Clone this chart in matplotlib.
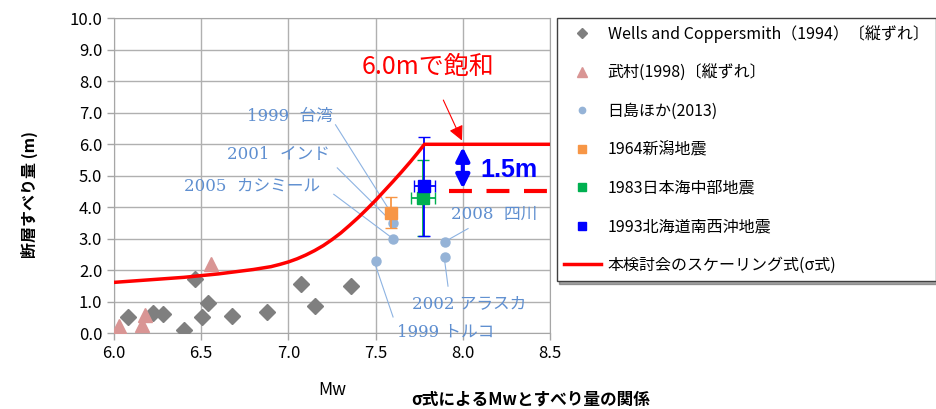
import matplotlib
matplotlib.use("Agg")
from matplotlib import pyplot as plt

plt.rcParams['font.family'] = ['Noto Sans CJK JP', 'DejaVu Sans']

# Wells and Coppersmith (1994) - diamonds
wc_mw = [6.08, 6.225, 6.28, 6.40, 6.465, 6.506, 6.54, 6.676, 6.875, 7.07, 7.15, 7.36]
wc_d = [0.51, 0.64, 0.61, 0.08, 1.71, 0.51, 0.96, 0.53, 0.67, 1.56, 0.87, 1.49]

# Takemura (1998) - triangles
tk_mw = [6.027, 6.16, 6.18, 6.557]
tk_d = [0.22, 0.25, 0.58, 2.2]

# Hishima et al. (2013) - circles
hs_mw = [7.60, 7.60, 7.50, 7.895, 7.895]
hs_d = [3.49, 2.99, 2.30, 2.88, 2.41]

# individual earthquakes: mw, slip, y-error low/high, x-error
niigata = (7.59, 3.83, 3.35, 4.34, 0.0)
nihonkai = (7.77, 4.30, 3.09, 5.50, 0.07)
hokkaido = (7.78, 4.67, 3.09, 6.23, 0.06)

# scaling curve (sigma formula)
curve_mw = [6.0, 6.2, 6.4, 6.6, 6.8, 6.9, 6.95, 7.0, 7.05, 7.1, 7.15, 7.2, 7.25, 7.3,
            7.35, 7.4, 7.45, 7.5, 7.55, 7.6, 7.65, 7.7, 7.74, 7.78, 8.5]
curve_d = [1.61, 1.69, 1.77, 1.88, 2.02, 2.11, 2.18, 2.26, 2.36, 2.48, 2.62, 2.78, 2.97, 3.18,
           3.42, 3.67, 3.94, 4.22, 4.52, 4.82, 5.13, 5.45, 5.72, 6.0, 6.0]

# event annotations: label, text pos, line start, line end
events = [
    ('1999  台湾', (6.76, 6.89), (7.27, 6.62), (7.60, 3.72)),
    ('2001  インド', (6.645, 5.67), (7.28, 5.25), (7.59, 3.55)),
    ('2005  カシミール', (6.40, 4.67), (7.26, 4.41), (7.59, 3.04)),
    ('2008  四川', (7.93, 3.78), (8.03, 3.32), (7.905, 2.93)),
    ('2002 アラスカ', (7.71, 0.93), (7.915, 1.49), (7.897, 2.25)),
    ('1999 トルコ', (7.62, 0.03), (7.60, 0.51), (7.50, 2.14)),
]

fig = plt.figure(figsize=(9.37, 4.09), dpi=100)
ax = fig.add_axes([0.1217, 0.1858, 0.4653, 0.769])

ax.plot(wc_mw, wc_d, 'D', color='#7f7f7f', markersize=8, label='Wells and Coppersmith（1994）〔縦ずれ〕', zorder=3)
ax.plot(tk_mw, tk_d, '^', color='#d99594', markersize=10, label='武村(1998)〔縦ずれ〕', zorder=3)
ax.plot(hs_mw, hs_d, 'o', color='#95b3d7', markersize=6.5, label='日島ほか(2013)', zorder=3)

for ev, col, lab in [(niigata, '#f79646', '1964新潟地震'),
                     (nihonkai, '#00b050', '1983日本海中部地震'),
                     (hokkaido, '#0000ff', '1993北海道南西沖地震')]:
    mw, d, lo, hi, xe = ev
    ax.errorbar([mw], [d], yerr=[[d - lo], [hi - d]], xerr=xe if xe else None,
                fmt='none', ecolor=col, elinewidth=1.3, capsize=4, zorder=4)
    ax.plot([mw], [d], 's', color=col, markersize=9, label=lab, zorder=5)

ax.plot(curve_mw, curve_d, color='#ff0000', lw=2.5, label='本検討会のスケーリング式(σ式)', zorder=4)

# saturation annotations
ax.plot([7.92, 8.5], [4.5, 4.5], color='#ff0000', lw=3, dashes=(5.5, 3.5), zorder=4)
ax.annotate('', xy=(8.0, 4.5), xytext=(8.0, 6.0),
            arrowprops=dict(arrowstyle='<|-|>', color='#0000ff', lw=3,
                            mutation_scale=20, shrinkA=2, shrinkB=2), zorder=5)
ax.text(8.1, 5.18, '1.5m', color='#0000ff', fontsize=18, fontweight='bold',
        family=['Liberation Sans', 'DejaVu Sans'], va='center', ha='left', zorder=5)
ax.annotate('6.0mで飽和', xy=(7.995, 6.12), xytext=(7.8, 8.47),
            color='#ff0000', fontsize=18, ha='center', va='center',
            arrowprops=dict(arrowstyle='-|>', color='#ff0000', lw=0.8,
                            mutation_scale=22, shrinkA=14, shrinkB=0), zorder=5)

for lab, tpos, p0, p1 in events:
    ax.plot([p0[0], p1[0]], [p0[1], p1[1]], color='#8db3e2', lw=0.8, zorder=2)
    ax.text(tpos[0], tpos[1], lab, color='#5f8fd0', fontsize=12, ha='left', va='center',
            family=['DejaVu Serif', 'Noto Sans CJK JP'], clip_on=False, zorder=6)

ax.set_xlim(6.0, 8.5)
ax.set_ylim(0, 10)
ax.set_xticks([6.0, 6.5, 7.0, 7.5, 8.0, 8.5])
ax.set_yticks(range(0, 11))
ax.set_xticklabels(['6.0', '6.5', '7.0', '7.5', '8.0', '8.5'])
ax.set_yticklabels(['%.1f' % v for v in range(0, 11)])
ax.tick_params(labelsize=12, color='#a6a6a6', length=5, width=1)
ax.grid(color='#b0b0b0', lw=1)
for s in ax.spines.values():
    s.set_color('#a6a6a6')
ax.set_axisbelow(True)

ax.set_xlabel('Mw', fontsize=12.5, labelpad=14)
ax.set_ylabel('断層すべり量 (m)', fontsize=11.5, fontweight='bold')
ax.yaxis.set_label_coords(-0.175, 0.44)

fig.text(0.566, 0.022, 'σ式によるMwとすべり量の関係', fontsize=12, fontweight='bold', ha='center', va='center')

leg = fig.legend(loc='upper left', bbox_to_anchor=(0.594, 0.957), fontsize=11.5,
                 frameon=True, fancybox=False, shadow=True, edgecolor='#404040',
                 labelspacing=1.35, borderpad=0.45, borderaxespad=0.0,
                 handlelength=2.3, handletextpad=0.45, markerscale=0.7)
leg.get_frame().set_linewidth(1.0)

fig.savefig('out.png', dpi=100)
